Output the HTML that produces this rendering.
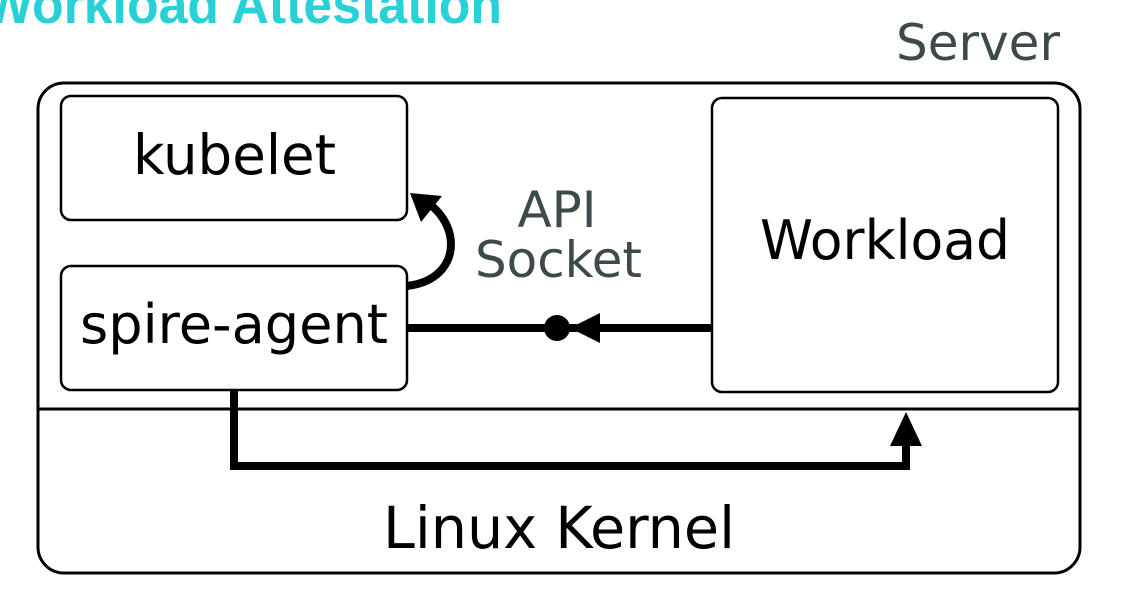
<!DOCTYPE html>
<html><head><style>
html,body{margin:0;padding:0;background:#fff;width:1122px;height:600px;overflow:hidden}
svg{display:block}
.d{font-family:"DejaVu Sans","Liberation Sans",sans-serif}
</style></head><body>
<svg width="1122" height="600" viewBox="0 0 1122 600">
<text x="-16" y="23" font-size="54" font-weight="bold" fill="#29d0d8" style="font-family:'Liberation Sans',sans-serif" textLength="518" lengthAdjust="spacingAndGlyphs">Workload Attestation</text>
<text class="d" x="1060" y="60" font-size="50" fill="#3d4a4c" text-anchor="end">Server</text>
<rect x="38" y="83" width="1042" height="490" rx="26" fill="#fff" stroke="#000" stroke-width="3"/>
<line x1="38" y1="409" x2="1080" y2="409" stroke="#000" stroke-width="3"/>
<rect x="61" y="96" width="346" height="124" rx="10" fill="#fff" stroke="#000" stroke-width="2.5"/>
<rect x="61" y="266" width="346" height="124" rx="10" fill="#fff" stroke="#000" stroke-width="2.5"/>
<rect x="712" y="98" width="346" height="294" rx="10" fill="#fff" stroke="#000" stroke-width="2.5"/>
<text class="d" x="133" y="174" font-size="55" textLength="203" lengthAdjust="spacingAndGlyphs">kubelet</text>
<text class="d" x="80" y="343" font-size="54" textLength="308" lengthAdjust="spacingAndGlyphs">spire-agent</text>
<text class="d" x="760" y="259" font-size="54" textLength="250" lengthAdjust="spacingAndGlyphs">Workload</text>
<text class="d" x="383" y="548" font-size="58" textLength="352" lengthAdjust="spacingAndGlyphs">Linux Kernel</text>
<text class="d" x="557" y="227" font-size="50" fill="#3d4a4c" text-anchor="middle">API</text>
<text class="d" x="475" y="277" font-size="50" fill="#3d4a4c" textLength="167" lengthAdjust="spacingAndGlyphs">Socket</text>
<line x1="407" y1="328" x2="712" y2="328" stroke="#000" stroke-width="8"/>
<circle cx="557" cy="328" r="13" fill="#000"/>
<polygon points="570,328 600,313 600,343" fill="#000"/>
<path d="M407 286 C 440 282, 455 260, 450 235 C 447 222, 440 213, 432 206" fill="none" stroke="#000" stroke-width="8"/>
<polygon points="410,193 442,196 421,222" fill="#000"/>
<path d="M234 390 L234 466 L906 466 L906 440" fill="none" stroke="#000" stroke-width="8"/>
<polygon points="906,412 890,446 922,446" fill="#000"/>
</svg>
</body></html>
